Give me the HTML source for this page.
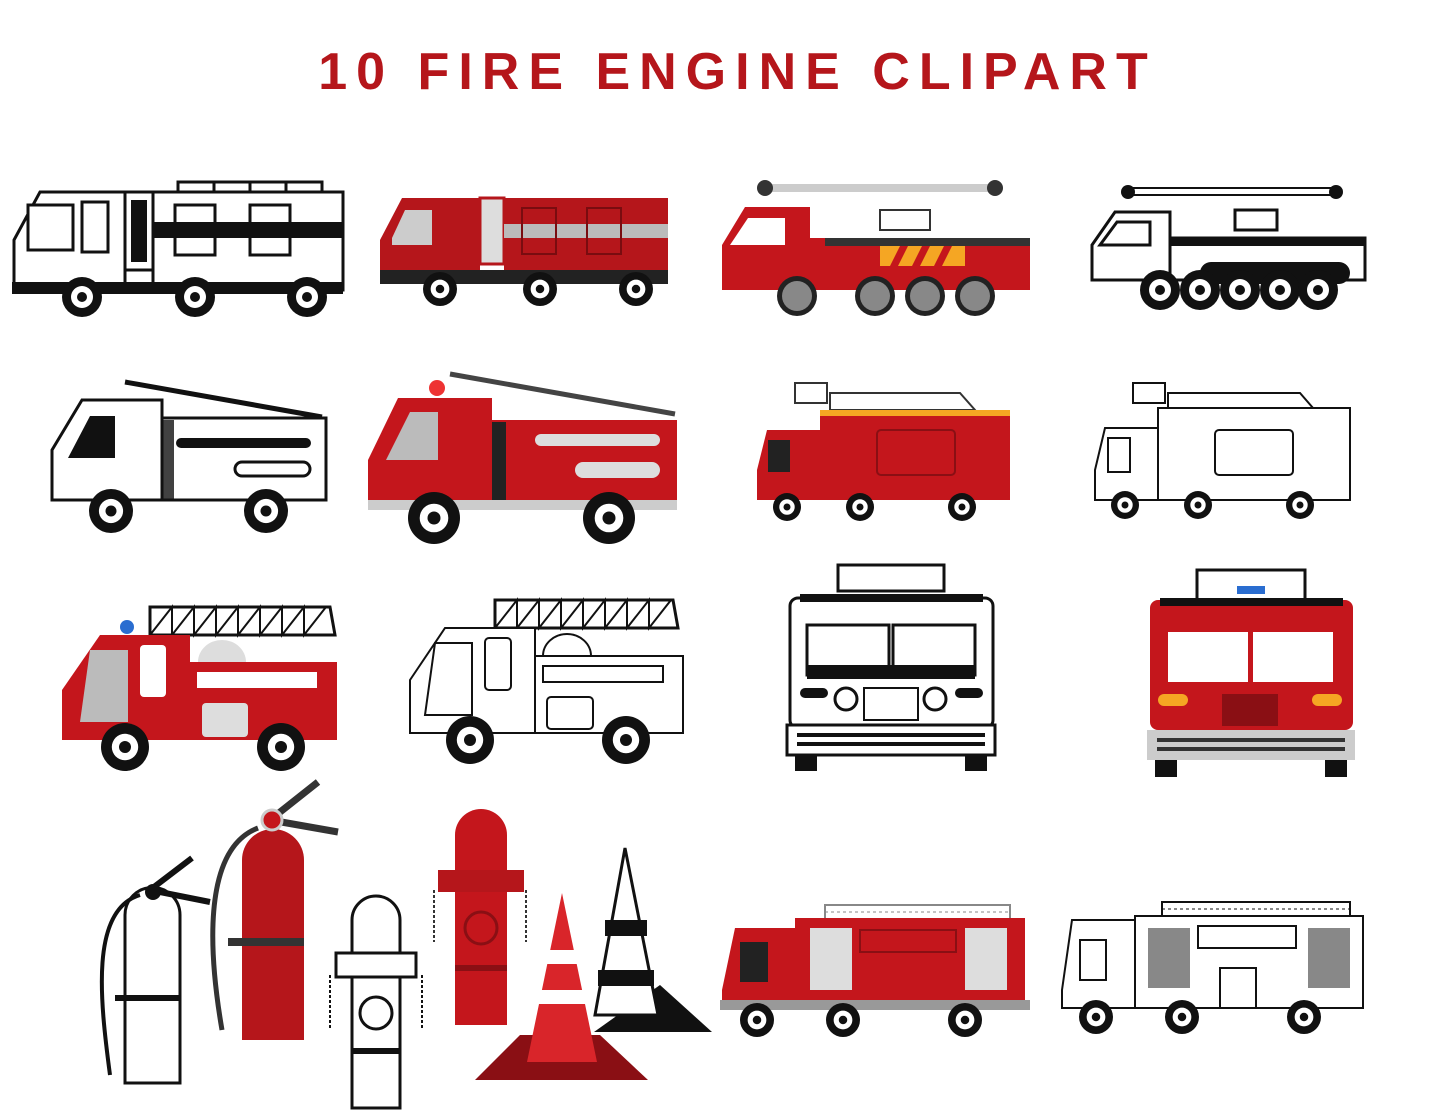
<!DOCTYPE html>
<html><head><meta charset="utf-8"><style>
html,body{margin:0;padding:0;background:#fff}
body{width:1445px;height:1112px;overflow:hidden;position:relative}
h1{position:absolute;left:0;top:40px;width:1445px;margin:0;padding-left:30px;box-sizing:border-box;text-align:center;font:900 52px "Liberation Sans",sans-serif;color:#b5161b;letter-spacing:9px;line-height:64px}
svg{position:absolute;left:0;top:0}
</style></head><body>
<h1>10 FIRE ENGINE CLIPART</h1>
<svg width="1445" height="1112" viewBox="0 0 1445 1112">
<defs>
<g id="wb"><circle r="20" fill="#111"/><circle r="11" fill="#fff"/><circle r="5" fill="#111"/></g>
<g id="wg"><circle r="20" fill="#222"/><circle r="15" fill="#888"/></g>
</defs>
<!-- Row1 truck1 BW -->
<g stroke="#111" stroke-width="3" fill="#fff">
<path d="M14 240 L40 192 L125 192 L125 290 L14 290 Z"/>
<rect x="125" y="192" width="28" height="78"/>
<rect x="153" y="192" width="190" height="98"/>
<rect x="28" y="205" width="45" height="45"/>
<rect x="82" y="202" width="26" height="50"/>
<rect x="175" y="205" width="40" height="50"/><rect x="250" y="205" width="40" height="50"/>
<rect x="178" y="182" width="36" height="10"/><rect x="214" y="182" width="36" height="10"/><rect x="250" y="182" width="36" height="10"/><rect x="286" y="182" width="36" height="10"/>
</g>
<rect x="153" y="222" width="190" height="16" fill="#111"/>
<rect x="131" y="200" width="16" height="62" fill="#111"/>
<rect x="12" y="282" width="331" height="12" fill="#111"/>
<use href="#wb" x="82" y="297"/><use href="#wb" x="195" y="297"/><use href="#wb" x="307" y="297"/>
<!-- truck2 red -->
<path d="M380 240 L402 198 L480 198 L480 280 L380 280 Z" fill="#b5161b"/>
<rect x="480" y="198" width="24" height="66" fill="#ddd" stroke="#b5161b" stroke-width="3"/>
<rect x="504" y="198" width="164" height="82" fill="#b5161b"/>
<rect x="504" y="224" width="164" height="14" fill="#bbb"/>
<rect x="522" y="208" width="34" height="46" fill="none" stroke="#7a0c10" stroke-width="2"/><rect x="587" y="208" width="34" height="46" fill="none" stroke="#7a0c10" stroke-width="2"/>
<path d="M392 238 L405 210 L432 210 L432 245 L392 245Z" fill="#ccc"/>
<rect x="380" y="270" width="288" height="14" fill="#222"/>
<use href="#wb" transform="translate(440 289) scale(.85)"/>
<use href="#wb" transform="translate(540 289) scale(.85)"/>
<use href="#wb" transform="translate(636 289) scale(.85)"/>
<!-- truck3 red ladder -->
<rect x="760" y="184" width="235" height="8" fill="#ccc"/><circle cx="765" cy="188" r="8" fill="#333"/><circle cx="995" cy="188" r="8" fill="#333"/>
<path d="M722 245 L745 207 L810 207 L810 290 L722 290Z" fill="#c4161c"/>
<path d="M730 245 L748 218 L785 218 L785 245Z" fill="#fff"/>
<rect x="810" y="238" width="220" height="52" fill="#c4161c"/>
<rect x="825" y="238" width="205" height="8" fill="#333"/>
<rect x="880" y="246" width="85" height="20" fill="#f5a623"/>
<path d="M890 266 l10 -20 h8 l-10 20z M912 266 l10 -20 h8 l-10 20z M934 266 l10 -20 h8 l-10 20z" fill="#c4161c"/>
<rect x="880" y="210" width="50" height="20" fill="#fff" stroke="#333" stroke-width="2"/>
<use href="#wg" x="797" y="296"/><use href="#wg" x="875" y="296"/><use href="#wg" x="925" y="296"/><use href="#wg" x="975" y="296"/>
<!-- truck4 BW ladder -->
<rect x="1125" y="188" width="215" height="7" fill="#fff" stroke="#111" stroke-width="2"/><circle cx="1128" cy="192" r="7" fill="#111"/><circle cx="1336" cy="192" r="7" fill="#111"/>
<g stroke="#111" stroke-width="3" fill="#fff">
<path d="M1092 245 L1115 212 L1170 212 L1170 280 L1092 280Z"/>
<rect x="1170" y="238" width="195" height="42"/>
<path d="M1100 245 L1117 222 L1150 222 L1150 245Z"/>
<rect x="1235" y="210" width="42" height="20"/>
</g>
<rect x="1170" y="238" width="195" height="8" fill="#111"/>
<rect x="1200" y="262" width="150" height="22" rx="11" fill="#111"/>
<use href="#wb" x="1160" y="290"/><use href="#wb" x="1200" y="290"/><use href="#wb" x="1240" y="290"/><use href="#wb" x="1280" y="290"/><use href="#wb" x="1318" y="290"/>
<!-- Row2 truck5 BW -->
<line x1="125" y1="382" x2="322" y2="417" stroke="#111" stroke-width="5"/>
<g stroke="#111" stroke-width="3" fill="#fff">
<path d="M52 450 L82 400 L162 400 L162 500 L52 500Z"/>
<rect x="162" y="418" width="164" height="82"/>
<rect x="235" y="462" width="75" height="14" rx="7"/>
</g>
<path d="M68 458 L90 416 L115 416 L115 458Z" fill="#111"/>
<rect x="176" y="438" width="135" height="10" rx="5" fill="#111"/>
<rect x="162" y="420" width="12" height="80" fill="#111" opacity=".8"/>
<use href="#wb" transform="translate(111 511) scale(1.1)"/>
<use href="#wb" transform="translate(266 511) scale(1.1)"/>
<!-- truck6 red -->
<line x1="450" y1="374" x2="675" y2="414" stroke="#444" stroke-width="5"/>
<path d="M368 460 L398 398 L492 398 L492 510 L368 510Z" fill="#c4161c"/>
<path d="M386 460 L410 412 L438 412 L438 460Z" fill="#bbb"/>
<rect x="492" y="420" width="185" height="90" fill="#c4161c"/>
<rect x="492" y="422" width="14" height="86" fill="#222"/>
<rect x="575" y="462" width="85" height="16" rx="8" fill="#ddd"/>
<rect x="535" y="434" width="125" height="12" rx="6" fill="#ddd"/>
<rect x="368" y="500" width="309" height="10" fill="#ccc"/>
<circle cx="437" cy="388" r="8" fill="#e33"/>
<use href="#wb" transform="translate(434 518) scale(1.3)"/>
<use href="#wb" transform="translate(609 518) scale(1.3)"/>
<!-- truck7 red -->
<rect x="795" y="383" width="32" height="20" fill="#fff" stroke="#333" stroke-width="2"/>
<path d="M830 393 L960 393 L975 410 L830 410Z" fill="#fff" stroke="#333" stroke-width="2"/>
<path d="M757 470 L767 430 L820 430 L820 500 L757 500Z" fill="#c4161c"/>
<rect x="768" y="440" width="22" height="32" fill="#222"/>
<rect x="820" y="410" width="190" height="90" fill="#c4161c"/>
<rect x="820" y="410" width="190" height="6" fill="#f5a623"/>
<rect x="877" y="430" width="78" height="45" rx="4" fill="none" stroke="#8a0f14" stroke-width="2"/>
<use href="#wb" transform="translate(787 507) scale(.7)"/>
<use href="#wb" transform="translate(860 507) scale(.7)"/>
<use href="#wb" transform="translate(962 507) scale(.7)"/>
<!-- truck8 BW -->
<rect x="1133" y="383" width="32" height="20" fill="#fff" stroke="#111" stroke-width="2"/>
<path d="M1168 393 L1300 393 L1313 408 L1168 408Z" fill="#fff" stroke="#111" stroke-width="2"/>
<g stroke="#111" stroke-width="2" fill="#fff">
<path d="M1095 470 L1105 428 L1158 428 L1158 500 L1095 500Z"/>
<rect x="1158" y="408" width="192" height="92"/>
<rect x="1215" y="430" width="78" height="45" rx="4"/>
<rect x="1108" y="438" width="22" height="34"/>
</g>
<use href="#wb" transform="translate(1125 505) scale(.7)"/>
<use href="#wb" transform="translate(1198 505) scale(.7)"/>
<use href="#wb" transform="translate(1300 505) scale(.7)"/>
<!-- Row3 truck9 red -->
<path d="M150 607 L330 607 L335 635 L150 635Z" fill="#fff" stroke="#111" stroke-width="3"/>
<path d="M150 635 L172 607 L172 635 L194 607 L194 635 L216 607 L216 635 L238 607 L238 635 L260 607 L260 635 L282 607 L282 635 L304 607 L304 635 L326 607" fill="none" stroke="#111" stroke-width="2"/>
<circle cx="127" cy="627" r="7" fill="#2a6dd0"/>
<path d="M62 690 L100 635 L190 635 L190 740 L62 740Z" fill="#c4161c"/>
<path d="M80 722 L90 650 L128 650 L128 722Z" fill="#bbb"/>
<rect x="140" y="645" width="26" height="52" rx="4" fill="#fff"/>
<rect x="190" y="662" width="147" height="78" fill="#c4161c"/>
<path d="M198 662 a24 22 0 0 1 48 0Z" fill="#ddd"/>
<rect x="197" y="672" width="120" height="16" fill="#fff"/>
<rect x="202" y="703" width="46" height="34" rx="4" fill="#ddd"/>
<use href="#wb" transform="translate(125 747) scale(1.2)"/>
<use href="#wb" transform="translate(281 747) scale(1.2)"/>
<!-- truck10 BW -->
<path d="M495 600 L673 600 L678 628 L495 628Z" fill="#fff" stroke="#111" stroke-width="3"/>
<path d="M495 628 L517 600 L517 628 L539 600 L539 628 L561 600 L561 628 L583 600 L583 628 L605 600 L605 628 L627 600 L627 628 L649 600 L649 628 L671 600" fill="none" stroke="#111" stroke-width="2"/>
<g stroke="#111" stroke-width="2" fill="#fff">
<path d="M410 680 L445 628 L535 628 L535 733 L410 733Z"/>
<rect x="535" y="656" width="148" height="77"/>
<path d="M543 656 a24 22 0 0 1 48 0Z"/>
<rect x="543" y="666" width="120" height="16"/>
<rect x="547" y="697" width="46" height="32" rx="4"/>
<path d="M425 715 L435 643 L472 643 L472 715Z"/>
<rect x="485" y="638" width="26" height="52" rx="4"/>
</g>
<use href="#wb" transform="translate(470 740) scale(1.2)"/>
<use href="#wb" transform="translate(626 740) scale(1.2)"/>
<!-- truck11 front BW -->
<g stroke="#111" stroke-width="3" fill="#fff">
<rect x="838" y="565" width="106" height="26"/>
<rect x="790" y="598" width="203" height="130" rx="8"/>
<rect x="787" y="725" width="208" height="30"/>
</g>
<rect x="800" y="594" width="183" height="8" fill="#111"/>
<rect x="807" y="625" width="82" height="50" fill="#fff" stroke="#111" stroke-width="3"/>
<rect x="893" y="625" width="82" height="50" fill="#fff" stroke="#111" stroke-width="3"/>
<rect x="807" y="665" width="168" height="14" fill="#111"/>
<rect x="800" y="688" width="28" height="10" rx="5" fill="#111"/><rect x="955" y="688" width="28" height="10" rx="5" fill="#111"/>
<circle cx="846" cy="699" r="11" fill="#fff" stroke="#111" stroke-width="3"/><circle cx="935" cy="699" r="11" fill="#fff" stroke="#111" stroke-width="3"/>
<rect x="864" y="688" width="54" height="32" fill="#fff" stroke="#111" stroke-width="2"/>
<rect x="797" y="733" width="188" height="4" fill="#111"/><rect x="797" y="742" width="188" height="4" fill="#111"/>
<rect x="795" y="755" width="22" height="16" fill="#111"/><rect x="965" y="755" width="22" height="16" fill="#111"/>
<!-- truck12 front red -->
<rect x="1197" y="570" width="108" height="30" fill="#fff" stroke="#111" stroke-width="3"/>
<rect x="1237" y="586" width="28" height="8" fill="#2a6dd0"/>
<rect x="1150" y="600" width="203" height="130" rx="8" fill="#c4161c"/>
<rect x="1160" y="598" width="183" height="8" fill="#111"/>
<rect x="1168" y="632" width="80" height="50" fill="#fff"/><rect x="1253" y="632" width="80" height="50" fill="#fff"/>
<rect x="1158" y="694" width="30" height="12" rx="6" fill="#f5a623"/><rect x="1312" y="694" width="30" height="12" rx="6" fill="#f5a623"/>
<rect x="1222" y="694" width="56" height="32" fill="#8a0f14"/>
<rect x="1147" y="730" width="208" height="30" fill="#ccc"/>
<rect x="1157" y="738" width="188" height="4" fill="#333"/><rect x="1157" y="747" width="188" height="4" fill="#333"/>
<rect x="1155" y="760" width="22" height="17" fill="#111"/><rect x="1325" y="760" width="22" height="17" fill="#111"/>
<!-- extinguisher white -->
<path d="M125 915 a27 27 0 0 1 55 0 L180 1083 L125 1083Z" fill="#fff" stroke="#111" stroke-width="3"/>
<path d="M150 890 L192 858 M150 890 L210 902" stroke="#111" stroke-width="6" fill="none"/>
<path d="M140 895 C90 910 100 1000 110 1075" stroke="#111" stroke-width="4" fill="none"/>
<circle cx="153" cy="892" r="8" fill="#111"/>
<rect x="115" y="995" width="65" height="6" fill="#111"/>
<!-- extinguisher red -->
<path d="M242 860 a31 31 0 0 1 62 0 L304 1040 L242 1040Z" fill="#b5161b"/>
<path d="M270 820 L318 782 M270 820 L338 832" stroke="#333" stroke-width="7" fill="none"/>
<path d="M258 828 C200 850 210 960 222 1030" stroke="#333" stroke-width="5" fill="none"/>
<circle cx="272" cy="820" r="10" fill="#c4161c" stroke="#ccc" stroke-width="3"/>
<rect x="228" y="938" width="76" height="8" fill="#333"/>
<!-- hydrant white -->
<path d="M352 920 a24 24 0 0 1 48 0 L400 1108 L352 1108Z" fill="#fff" stroke="#111" stroke-width="3"/>
<rect x="336" y="953" width="80" height="24" fill="#fff" stroke="#111" stroke-width="3"/>
<circle cx="376" cy="1013" r="16" fill="#fff" stroke="#111" stroke-width="3"/>
<rect x="352" y="1048" width="48" height="6" fill="#111"/>
<line x1="330" y1="975" x2="330" y2="1028" stroke="#111" stroke-width="2" stroke-dasharray="3 2"/><line x1="422" y1="975" x2="422" y2="1028" stroke="#111" stroke-width="2" stroke-dasharray="3 2"/>
<!-- hydrant red -->
<path d="M455 835 a26 26 0 0 1 52 0 L507 1025 L455 1025Z" fill="#c4161c"/>
<rect x="438" y="870" width="86" height="22" fill="#b5161b"/>
<circle cx="481" cy="928" r="16" fill="none" stroke="#8a0f14" stroke-width="3"/>
<rect x="455" y="965" width="52" height="6" fill="#8a0f14"/>
<line x1="434" y1="890" x2="434" y2="942" stroke="#333" stroke-width="2" stroke-dasharray="3 2"/><line x1="526" y1="890" x2="526" y2="942" stroke="#333" stroke-width="2" stroke-dasharray="3 2"/>
<!-- cones -->
<polygon points="594,1032 712,1032 660,985" fill="#111"/>
<polygon points="625,848 595,1015 658,1015" fill="#fff" stroke="#111" stroke-width="3"/>
<rect x="605" y="920" width="42" height="16" fill="#111"/><rect x="598" y="970" width="56" height="16" fill="#111"/>
<polygon points="475,1080 648,1080 600,1035 520,1035" fill="#8a0f14"/>
<polygon points="562,893 527,1062 597,1062" fill="#d9252a"/>
<rect x="545" y="950" width="34" height="14" fill="#fff"/><rect x="538" y="990" width="48" height="14" fill="#fff"/>
<!-- bottom truck red -->
<rect x="825" y="905" width="185" height="14" fill="#fff" stroke="#888" stroke-width="2"/>
<path d="M825 912 H1010" stroke="#888" stroke-width="1" stroke-dasharray="3 3"/>
<path d="M722 990 L735 928 L795 928 L795 1010 L722 1010Z" fill="#c4161c"/>
<rect x="740" y="942" width="28" height="40" fill="#222"/>
<rect x="795" y="918" width="230" height="92" fill="#c4161c"/>
<rect x="810" y="928" width="42" height="62" fill="#ddd"/><rect x="965" y="928" width="42" height="62" fill="#ddd"/>
<rect x="860" y="930" width="96" height="22" fill="none" stroke="#8a0f14" stroke-width="2"/>
<rect x="720" y="1000" width="310" height="10" fill="#999"/>
<use href="#wb" transform="translate(757 1020) scale(.85)"/>
<use href="#wb" transform="translate(843 1020) scale(.85)"/>
<use href="#wb" transform="translate(965 1020) scale(.85)"/>
<!-- bottom truck BW -->
<rect x="1162" y="902" width="188" height="14" fill="#fff" stroke="#111" stroke-width="2"/>
<path d="M1162 909 H1350" stroke="#111" stroke-width="1" stroke-dasharray="3 3"/>
<g stroke="#111" stroke-width="2" fill="#fff">
<path d="M1062 990 L1072 920 L1135 920 L1135 1008 L1062 1008Z"/>
<rect x="1135" y="916" width="228" height="92"/>
<rect x="1198" y="926" width="98" height="22"/>
<rect x="1220" y="968" width="36" height="40"/>
<rect x="1080" y="940" width="26" height="40"/>
</g>
<rect x="1148" y="928" width="42" height="60" fill="#111" opacity=".5"/><rect x="1308" y="928" width="42" height="60" fill="#111" opacity=".5"/>
<use href="#wb" transform="translate(1096 1017) scale(.85)"/>
<use href="#wb" transform="translate(1182 1017) scale(.85)"/>
<use href="#wb" transform="translate(1304 1017) scale(.85)"/>
</svg>
</body></html>
